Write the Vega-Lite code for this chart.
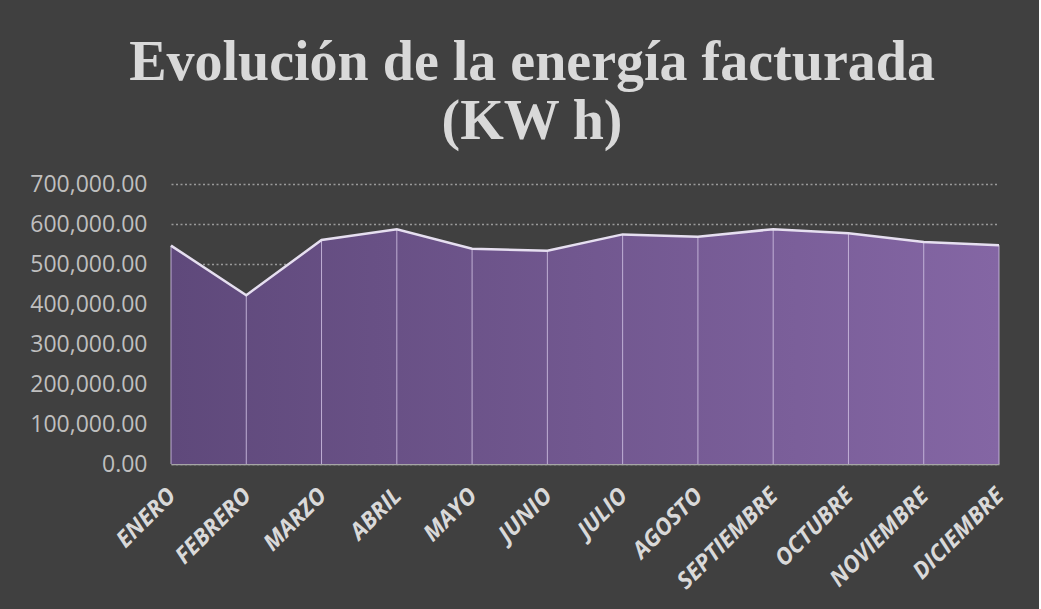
{
  "$schema": "https://vega.github.io/schema/vega-lite/v6.json",
  "width": 828,
  "height": 280,
  "padding": {"left": 29, "top": 35, "right": 30, "bottom": 20},
  "background": "#404040",
  "title": {
    "text": ["Evolución de la energía facturada", "(KW h)"],
    "font": "Liberation Serif",
    "fontWeight": "bold",
    "fontSize": 56,
    "lineHeight": 59,
    "color": "#d9d9d9",
    "anchor": "middle",
    "frame": "bounds",
    "offset": 22,
    "dx": 13
  },
  "data": {
    "values": [
      {"mes": "ENERO", "energia": 546000},
      {"mes": "FEBRERO", "energia": 422000},
      {"mes": "MARZO", "energia": 560000},
      {"mes": "ABRIL", "energia": 587000},
      {"mes": "MAYO", "energia": 538000},
      {"mes": "JUNIO", "energia": 533000},
      {"mes": "JULIO", "energia": 574000},
      {"mes": "AGOSTO", "energia": 568000},
      {"mes": "SEPTIEMBRE", "energia": 587000},
      {"mes": "OCTUBRE", "energia": 577000},
      {"mes": "NOVIEMBRE", "energia": 555000},
      {"mes": "DICIEMBRE", "energia": 547000}
    ]
  },
  "encoding": {
    "x": {
      "field": "mes",
      "type": "ordinal",
      "sort": null,
      "scale": {"type": "point", "padding": 0},
      "axis": {
        "title": null,
        "labelAngle": -45,
        "labelAlign": "right",
        "labelBaseline": "top",
        "labelPadding": 20,
        "labelOffset": -7,
        "labelFont": "Open Sans",
        "labelFontStyle": "italic",
        "labelFontWeight": "bold",
        "labelFontSize": 23,
        "labelColor": "#d9d9d9",
        "ticks": false,
        "grid": false,
        "domainColor": "#a6a6a6",
        "domainWidth": 1.5
      }
    },
    "y": {
      "field": "energia",
      "type": "quantitative",
      "scale": {"domain": [0, 700000]},
      "axis": {
        "title": null,
        "values": [0, 100000, 200000, 300000, 400000, 500000, 600000, 700000],
        "format": ",.2f",
        "labelFont": "Open Sans",
        "labelFontSize": 23,
        "labelColor": "#bfbfbf",
        "labelPadding": 24,
        "ticks": false,
        "domain": false,
        "grid": true,
        "gridColor": "#9a9a9a",
        "gridDash": [2, 2.5],
        "gridWidth": 1.5
      }
    }
  },
  "layer": [
    {
      "mark": {
        "type": "area",
        "color": {
          "gradient": "linear",
          "x1": 0, "y1": 0, "x2": 1, "y2": 0,
          "stops": [
            {"offset": 0, "color": "#5f497b"},
            {"offset": 1, "color": "#8466a4"}
          ]
        }
      }
    },
    {
      "mark": {"type": "rule", "color": "#c9b9dd", "strokeWidth": 1, "opacity": 0.9},
      "encoding": {"y2": {"datum": 0}}
    },
    {
      "mark": {"type": "line", "color": "#e6dff0", "strokeWidth": 2.5}
    }
  ],
  "config": {"view": {"stroke": null}}
}
